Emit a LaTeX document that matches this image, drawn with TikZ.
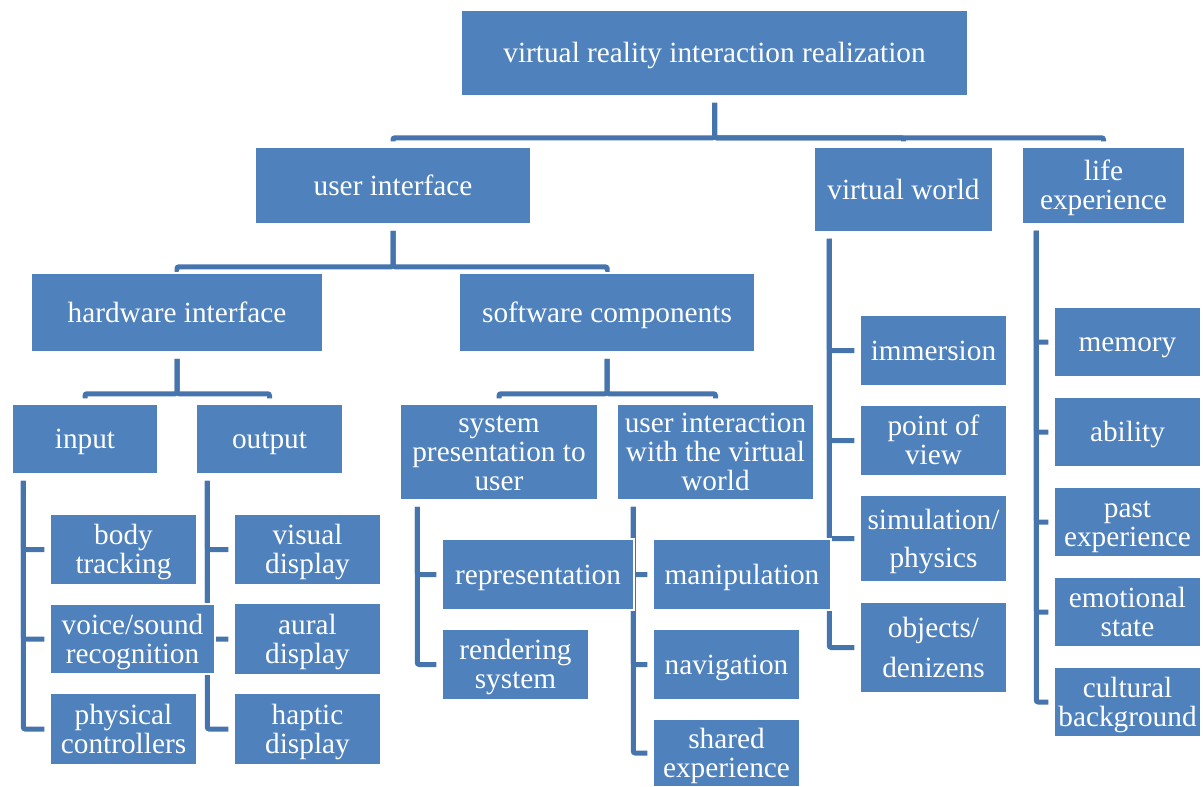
\documentclass[tikz,border=0pt]{standalone}
\usepackage{fontspec}
\setmainfont{Liberation Serif}
\usetikzlibrary{backgrounds}
\definecolor{boxBlue}{HTML}{4F81BD}
\definecolor{lineBlue}{HTML}{4674AD}

\begin{document}
\begin{tikzpicture}[x=1pt,y=-1pt,
  box/.style={draw=white,line width=1.5pt,fill=boxBlue,text=white,align=center,
    inner sep=0pt,font=\fontsize{29.3}{29}\selectfont,
    execute at begin node=\rule{0pt}{28pt},execute at end node=\strut},
  texttop/.style={execute at begin node=\rule{0pt}{#1pt}},
  two/.style={texttop=57},
  three/.style={texttop=86},
  boxsize/.style 2 args={minimum width=#1pt,minimum height=#2pt},
  leaf/.style={box,boxsize={147}{71}},
  link/.style={draw=lineBlue,line width=5pt,rounded corners=2pt,
    shorten <=6pt,shorten >=5pt}]
  \useasboundingbox (0,0) rectangle (1203,787);

  \node[box,boxsize={507}{86}] (root) at (714.5,53) {virtual reality interaction realization};
  \node[box,boxsize={276}{77}] (ui) at (393,185.5) {user interface};
  \node[box,boxsize={179}{85}] (vw) at (903.5,189.5) {virtual world};
  \node[box,two,boxsize={163}{77}] (le) at (1103.5,185.5) {life\\experience};

  \node[box,boxsize={292}{79}] (hw) at (177,312.5) {hardware interface};
  \node[box,boxsize={296}{79}] (sw) at (607,312.5) {software components};

  \node[box,boxsize={146}{70}] (in) at (85,439) {input};
  \node[box,boxsize={147}{70}] (out) at (269.5,439) {output};
  \node[box,three,boxsize={198}{96}] (sp) at (499,452) {system\\presentation to\\user};
  \node[box,three,boxsize={197}{96}] (uiw) at (715.5,452) {user interaction\\with the virtual\\world};

  \node[leaf,two] (body) at (123.5,549.5) {body\\tracking};
  \node[box,two,boxsize={165}{70}] (voice) at (132.5,639) {voice/sound\\recognition};
  \node[leaf,two] (phys) at (123.5,729) {physical\\controllers};
  \node[leaf,two] (vis) at (307.5,549.5) {visual\\display};
  \node[leaf,two] (aural) at (307.5,639) {aural\\display};
  \node[leaf,two] (hap) at (307.5,729) {haptic\\display};

  \node[box,boxsize={192}{71}] (rep) at (538,574.5) {representation};
  \node[leaf,two] (rend) at (515.5,664.5) {rendering\\system};
  \node[box,boxsize={178}{71}] (man) at (742,574.5) {manipulation};
  \node[leaf] (nav) at (726.5,664.5) {navigation};
  \node[box,two,boxsize={147}{68}] (shared) at (726.5,753) {shared\\experience};

  \node[leaf] (imm) at (933.5,350.5) {immersion};
  \node[leaf,two] (pov) at (933.5,440.5) {point of\\view};
  \node[box,texttop=67,boxsize={147}{87}] (sim) at (933.5,538.5) {simulation/\\[9pt]physics};
  \node[box,texttop=69,boxsize={147}{91}] (obj) at (933.5,647.5) {objects/\\[11pt]denizens};

  \node[box,boxsize={147}{70}] (mem) at (1127.5,342) {memory};
  \node[box,boxsize={147}{70}] (abil) at (1127.5,432) {ability};
  \node[box,two,boxsize={147}{70}] (past) at (1127.5,522) {past\\experience};
  \node[box,two,boxsize={147}{70}] (emo) at (1127.5,612) {emotional\\state};
  \node[box,two,boxsize={147}{70}] (cult) at (1127.5,702) {cultural\\background};

  \begin{scope}[on background layer]
    \foreach \c in {ui,vw,le}
      \draw[link] (root.south) -- ([yshift=-41pt]root.south) -| (\c.north);
    \foreach \c in {hw,sw}
      \draw[link] (ui.south) -- ([yshift=-42pt]ui.south) -| (\c.north);
    \foreach \c in {in,out}
      \draw[link] (hw.south) -- ([yshift=-41pt]hw.south) -| (\c.north);
    \foreach \c in {sp,uiw}
      \draw[link] (sw.south) -- ([yshift=-41pt]sw.south) -| (\c.north);

    \foreach \c in {body,voice,phys}
      \draw[link] ([xshift=12pt]in.south west) |- (\c.west);
    \foreach \c in {vis,aural,hap}
      \draw[link] ([xshift=12pt]out.south west) |- (\c.west);
    \foreach \c in {rep,rend}
      \draw[link] ([xshift=18pt]sp.south west) |- (\c.west);
    \foreach \c in {man,nav,shared}
      \draw[link] ([xshift=17pt]uiw.south west) |- (\c.west);
    \foreach \c in {imm,pov,sim,obj}
      \draw[link] ([xshift=16pt]vw.south west) |- (\c.west);
    \foreach \c in {mem,abil,past,emo,cult}
      \draw[link] ([xshift=15pt]le.south west) |- (\c.west);
  \end{scope}
\end{tikzpicture}
\end{document}
